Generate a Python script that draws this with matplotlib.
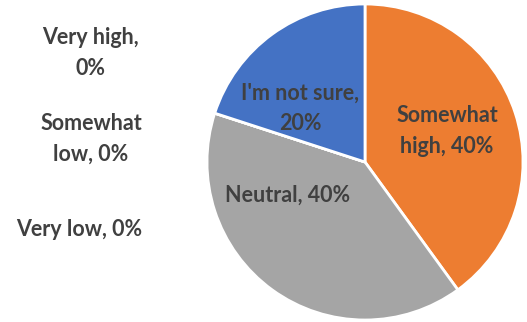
import matplotlib.pyplot as plt

categories = ["Very high", "Somewhat high", "Neutral", "Somewhat low", "Very low", "I'm not sure"]
values = [0, 40, 40, 0, 0, 20]
colors = ["#5B9BD5", "#ED7D31", "#A5A5A5", "#FFC000", "#70AD47", "#4472C4"]
label_texts = ["Very high,\n0%", "Somewhat\nhigh, 40%", "Neutral, 40%",
               "Somewhat\nlow, 0%", "Very low, 0%", "I'm not sure,\n20%"]

W, H = 527, 322
fig = plt.figure(figsize=(W / 100, H / 100), dpi=100)

# pie area in pixels: centre (365, 162), radius 158
cx, cy, r = 365, 162, 158
ax = fig.add_axes([(cx - r) / W, (H - cy - r) / H, 2 * r / W, 2 * r / H])

wedges, _ = ax.pie(values, colors=colors, startangle=90, counterclock=False,
                   wedgeprops=dict(edgecolor="white", linewidth=2))
ax.set_xlim(-1, 1)
ax.set_ylim(-1, 1)
ax.set_aspect("equal")
ax.axis("off")

txt = dict(fontsize=15.5, fontweight="bold", color="#404040", family="Lato",
           ha="center", va="center", linespacing=1.55)

# label centres in pixels (as in the original chart layout)
label_pos = {0: (90, 53), 1: (447, 131), 2: (288, 195),
             3: (91, 139), 4: (79, 229), 5: (300, 108)}
for i, (px, py) in label_pos.items():
    fig.text(px / W, 1 - py / H, label_texts[i], **txt)

fig.savefig("out.png", dpi=100)
